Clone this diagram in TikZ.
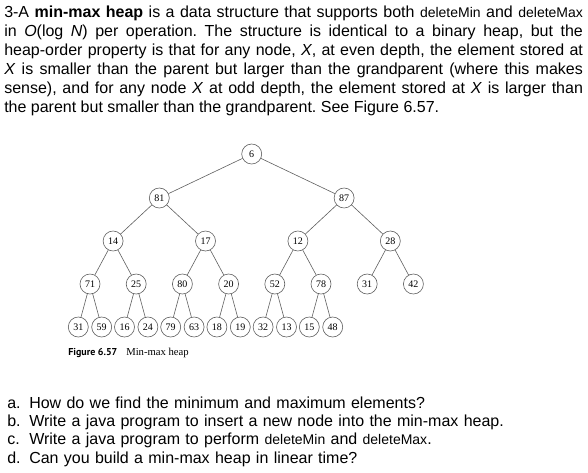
\documentclass[tikz,border=0pt]{standalone}
\usepackage{fontspec}
\setmainfont{Liberation Sans}
\newfontfamily\heapfont{Liberation Serif}
\newfontfamily\figfont{PT Sans}
\definecolor{heapGray}{RGB}{95, 95, 95}
\newcommand{\methname}[1]{{\fontsize{10.5}{12}\selectfont #1}}
\frenchspacing

\begin{document}
\begin{tikzpicture}[x=0.75pt, y=-0.75pt,
    heapnode/.style={circle, draw=heapGray, line width=0.45pt, minimum size=15pt, inner sep=0pt,
      font=\heapfont\fontsize{7.5}{9}\selectfont},
    heapedge/.style={draw=heapGray, line width=0.45pt}]
    \useasboundingbox (0,0) rectangle (588,472);

    % exercise text
    \node[anchor=base west, inner sep=0pt, text width=434pt, align=justify,
      font=\fontsize{12}{14.3}\selectfont] (intro) at (4,17.5)
      {3-A \textbf{min-max heap} is a data structure that supports both \methname{deleteMin} and \methname{deleteMax}\linebreak
       in \textit{O}(log \textit{N}) per operation. The structure is identical to a binary heap, but the\linebreak
       heap-order property is that for any node, \textit{X}, at even depth, the element stored at\linebreak
       \textit{X} is smaller than the parent but larger than the grandparent (where this makes\linebreak
       sense), and for any node \textit{X} at odd depth, the element stored at \textit{X} is larger than\linebreak
       the parent but smaller than the grandparent. See Figure 6.57.};

    % the heap, level by level
    \node[heapnode] (v6) at (251.7,154) {6};

    \node[heapnode] (v81) at (159.3,198) {81};
    \node[heapnode] (v87) at (344.1,198) {87};

    \node[heapnode] (v14) at (113.1,241) {14};
    \node[heapnode] (v17) at (205.5,241) {17};
    \node[heapnode] (v12) at (297.9,241) {12};
    \node[heapnode] (v28) at (390.3,241) {28};

    \node[heapnode] (v71) at (90,284) {71};
    \node[heapnode] (v25) at (136.2,284) {25};
    \node[heapnode] (v80) at (182.4,284) {80};
    \node[heapnode] (v20) at (228.6,284) {20};
    \node[heapnode] (v52) at (274.8,284) {52};
    \node[heapnode] (v78) at (321,284) {78};
    \node[heapnode] (v31r) at (367.2,284) {31};
    \node[heapnode] (v42) at (413.4,284) {42};

    \node[heapnode] (v31) at (78.3,327) {31};
    \node[heapnode] (v59) at (101.7,327) {59};
    \node[heapnode] (v16) at (124.5,327) {16};
    \node[heapnode] (v24) at (147.9,327) {24};
    \node[heapnode] (v79) at (170.7,327) {79};
    \node[heapnode] (v63) at (194.1,327) {63};
    \node[heapnode] (v18) at (216.9,327) {18};
    \node[heapnode] (v19) at (240.3,327) {19};
    \node[heapnode] (v32) at (263.1,327) {32};
    \node[heapnode] (v13) at (286.5,327) {13};
    \node[heapnode] (v15) at (309.3,327) {15};
    \node[heapnode] (v48) at (332.7,327) {48};

    \draw[heapedge] (v6) -- (v81) (v6) -- (v87);
    \draw[heapedge] (v81) -- (v14) (v81) -- (v17);
    \draw[heapedge] (v87) -- (v12) (v87) -- (v28);
    \draw[heapedge] (v14) -- (v71) (v14) -- (v25);
    \draw[heapedge] (v17) -- (v80) (v17) -- (v20);
    \draw[heapedge] (v12) -- (v52) (v12) -- (v78);
    \draw[heapedge] (v28) -- (v31r) (v28) -- (v42);
    \draw[heapedge] (v71) -- (v31) (v71) -- (v59);
    \draw[heapedge] (v25) -- (v16) (v25) -- (v24);
    \draw[heapedge] (v80) -- (v79) (v80) -- (v63);
    \draw[heapedge] (v20) -- (v18) (v20) -- (v19);
    \draw[heapedge] (v52) -- (v32) (v52) -- (v13);
    \draw[heapedge] (v78) -- (v15) (v78) -- (v48);

    % caption
    \node[anchor=base west, inner sep=0pt, font=\figfont\bfseries\fontsize{7.5}{9}\selectfont]
      (figlabel) at (68,355) {Figure 6.57};
    \node[anchor=base west, inner sep=0pt, font=\heapfont\fontsize{8}{9}\selectfont]
      (figtitle) at (126,355) {Min-max heap};

    % questions
    \node[anchor=base west, inner sep=0pt, text width=560pt, align=left,
      font=\fontsize{12}{13.8}\selectfont] (tasks) at (7,408)
      {\makebox[16.5pt][l]{a.}How do we find the minimum and maximum elements?\\
       \makebox[16.5pt][l]{b.}Write a java program to insert a new node into the min-max heap.\\
       \makebox[16.5pt][l]{c.}Write a java program to perform \methname{deleteMin} and \methname{deleteMax}.\\
       \makebox[16.5pt][l]{d.}Can you build a min-max heap in linear time?};
\end{tikzpicture}
\end{document}
